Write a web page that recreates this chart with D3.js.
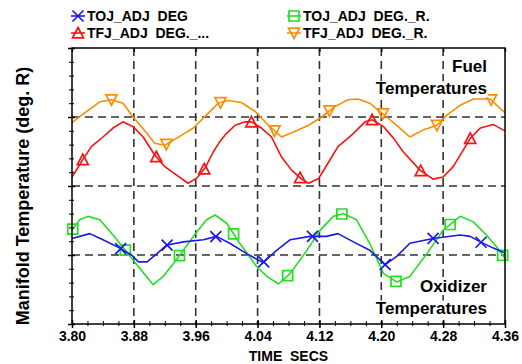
<!DOCTYPE html>
<html><head><meta charset="utf-8">
<script src="https://cdn.jsdelivr.net/npm/d3@7"></script>
<style>
html,body{margin:0;padding:0;background:#fff;}
svg text{font-family:"Liberation Sans",Arial,sans-serif;font-weight:bold;white-space:pre;}
</style></head>
<body><svg id="c" width="522" height="364"></svg>
<script>
// ---- data (time in s, temperature in plot units 0..4) ----
const xTicks = [3.80, 3.88, 3.96, 4.04, 4.12, 4.20, 4.28, 4.36];
const yGrid = [1, 2, 3];
const xLabel = "TIME  SECS";
const yLabel = "Manifold Temperature (deg. R)";
const seriesNames = ["TOJ_ADJ  DEG", "TOJ_ADJ  DEG._R.", "TFJ_ADJ  DEG._...", "TFJ_ADJ  DEG._R."];
const seriesColors = ["#1a1ae6", "#22e022", "#ff1010", "#ff8c00"];
const seriesShapes = ["x", "square", "tri-up", "tri-down"];

const tojTime = [3.800,3.823,3.840,3.862,3.877,3.886,3.897,3.910,3.922,3.944,3.970,3.987,4.004,4.026,4.047,4.065,4.082,4.108,4.129,4.144,4.164,4.185,4.205,4.220,4.237,4.267,4.302,4.315,4.328,4.345,4.360];
const tojVal  = [1.24,1.31,1.22,1.10,1.00,0.90,0.90,1.02,1.14,1.19,1.22,1.27,1.17,1.02,0.89,1.07,1.22,1.27,1.27,1.31,1.19,1.07,0.86,0.98,1.17,1.24,1.29,1.27,1.19,1.10,1.03];
const tojMarks = [3.863,3.923,3.986,4.048,4.111,4.205,4.267,4.329];

const tojRTime = [3.800,3.810,3.821,3.836,3.853,3.869,3.886,3.905,3.918,3.935,3.957,3.974,3.985,4.000,4.017,4.039,4.052,4.067,4.082,4.104,4.121,4.138,4.151,4.168,4.185,4.203,4.220,4.237,4.259,4.280,4.302,4.319,4.336,4.349,4.360];
const tojRVal  = [1.36,1.51,1.56,1.51,1.29,1.07,0.83,0.57,0.69,0.93,1.27,1.51,1.58,1.46,1.17,0.83,0.69,0.58,0.73,1.07,1.36,1.56,1.60,1.51,1.17,0.73,0.61,0.69,1.02,1.36,1.56,1.48,1.29,1.12,0.95];
const tojRMarks = [3.801,3.869,3.939,4.009,4.079,4.149,4.219,4.289,4.357];

const tfjTime = [3.800,3.815,3.825,3.840,3.853,3.866,3.879,3.892,3.907,3.920,3.935,3.950,3.961,3.972,3.983,3.991,3.998,4.011,4.024,4.032,4.045,4.058,4.071,4.084,4.097,4.106,4.119,4.131,4.144,4.162,4.179,4.188,4.203,4.216,4.228,4.250,4.267,4.280,4.293,4.306,4.315,4.328,4.345,4.358,4.360];
const tfjVal  = [2.13,2.40,2.57,2.71,2.84,2.93,2.86,2.71,2.45,2.28,2.16,2.04,2.11,2.26,2.50,2.64,2.74,2.88,2.93,2.93,2.84,2.71,2.42,2.23,2.10,2.04,2.11,2.33,2.57,2.74,2.93,2.96,2.86,2.69,2.50,2.23,2.10,2.13,2.28,2.52,2.69,2.84,2.89,2.81,2.80];
const tfjMarks = [3.814,3.909,3.971,4.032,4.095,4.188,4.251,4.315];

const tfjRTime = [3.800,3.819,3.836,3.851,3.866,3.879,3.897,3.907,3.920,3.935,3.957,3.974,3.989,4.002,4.019,4.037,4.054,4.071,4.088,4.106,4.123,4.140,4.157,4.170,4.185,4.207,4.224,4.237,4.254,4.272,4.285,4.302,4.319,4.341,4.358,4.360];
const tfjRVal  = [2.92,3.08,3.22,3.25,3.20,3.00,2.76,2.62,2.59,2.69,2.84,3.03,3.20,3.24,3.21,3.08,2.88,2.71,2.79,2.88,3.00,3.15,3.25,3.26,3.20,3.00,2.84,2.71,2.81,2.88,3.03,3.17,3.26,3.26,3.08,3.07];
const tfjRMarks = [3.851,3.922,3.992,4.062,4.133,4.202,4.272,4.342];

const annotations = [
  {lines:["Fuel","Temperatures"], at:[4.32, 3.65]},
  {lines:["Oxidizer","Temperatures"], at:[4.32, 0.47]}
];

// ---- build ----
const series = [
  {name:seriesNames[0], color:seriesColors[0], shape:seriesShapes[0], t:tojTime, v:tojVal, marks:tojMarks},
  {name:seriesNames[1], color:seriesColors[1], shape:seriesShapes[1], t:tojRTime, v:tojRVal, marks:tojRMarks},
  {name:seriesNames[2], color:seriesColors[2], shape:seriesShapes[2], t:tfjTime, v:tfjVal, marks:tfjMarks},
  {name:seriesNames[3], color:seriesColors[3], shape:seriesShapes[3], t:tfjRTime, v:tfjRVal, marks:tfjRMarks}
];

const svg = d3.select("#c");
const L = 72, R = 505, T = 48, B = 324;
const x = d3.scaleLinear().domain([3.80, 4.36]).range([L, R]);
const y = d3.scaleLinear().domain([0, 4]).range([B, T]);

// grid
const grid = svg.append("g").attr("stroke", "#333").attr("stroke-width", 1.6).attr("stroke-dasharray", "8,5");
grid.selectAll(".vx").data(xTicks.slice(1, -1)).join("line")
  .attr("x1", d => x(d)).attr("x2", d => x(d)).attr("y1", T).attr("y2", B);
grid.selectAll(".hy").data(yGrid).join("line")
  .attr("x1", L).attr("x2", R).attr("y1", d => y(d)).attr("y2", d => y(d));

// curves
const line = d3.line().x(d => x(d[0])).y(d => y(d[1]));
function interp(s, t) {
  const i = d3.bisectLeft(s.t, t);
  if (i <= 0) return s.v[0];
  if (i >= s.t.length) return s.v[s.v.length - 1];
  const t0 = s.t[i-1], t1 = s.t[i];
  return s.v[i-1] + (s.v[i] - s.v[i-1]) * (t - t0) / (t1 - t0);
}
function shapePath(shape) {
  const r = 5.5;
  if (shape === "x") return `M${-r},${-r}L${r},${r}M${-r},${r}L${r},${-r}`;
  if (shape === "square") return `M-5,-5H5V5H-5Z`;
  if (shape === "tri-up") return `M0,${-r}L${r},${r*0.9}L${-r},${r*0.9}Z`;
  return `M0,${r}L${r},${-r*0.9}L${-r},${-r*0.9}Z`;
}
// draw order: red, orange, green, blue
[2, 3, 1, 0].forEach(k => {
  const s = series[k];
  const pts = s.t.map((t, i) => [t, s.v[i]]);
  svg.append("path").datum(pts).attr("d", line)
    .attr("fill", "none").attr("stroke", s.color).attr("stroke-width", 1.6).attr("stroke-linejoin", "round");
  svg.append("g").selectAll("path").data(s.marks).join("path")
    .attr("transform", d => `translate(${x(d)},${y(interp(s, d))})`)
    .attr("d", shapePath(s.shape))
    .attr("fill", "none").attr("stroke", s.color).attr("stroke-width", 1.7);
});

// annotations with white backing
annotations.forEach(a => {
  const g = svg.append("g");
  const xx = x(a.at[0]) + 0, yy = y(a.at[1]);
  a.lines.forEach((ln, i) => {
    const txt = g.append("text").attr("x", 487).attr("y", yy + i * 22)
      .attr("text-anchor", "end").attr("font-size", 17).attr("fill", "#000").text(ln);
    const bb = txt.node().getBBox();
    g.insert("rect", "text").attr("x", bb.x - 1).attr("y", bb.y + 2).attr("width", bb.width + 2).attr("height", bb.height - 3).attr("fill", "#fff");
  });
});

// frame
svg.append("rect").attr("x", L).attr("y", T).attr("width", R - L).attr("height", B - T)
  .attr("fill", "none").attr("stroke", "#000").attr("stroke-width", 1.5);

// x axis
const xAxis = d3.axisBottom(x).tickValues(xTicks).tickFormat(d3.format(".2f")).tickSize(4).tickSizeOuter(0);
const gx = svg.append("g").attr("transform", `translate(0,${B})`).call(xAxis);
gx.select(".domain").remove();
gx.selectAll("line").attr("stroke", "#000").attr("stroke-width", 1.5).attr("y1", -4);
gx.selectAll("text").attr("dy", null).attr("y", 17).attr("font-size", 14)
  .attr("font-family", "Liberation Sans, Arial, sans-serif").attr("font-weight", "bold").attr("fill", "#000");
const minorX = d3.range(0, 29).map(i => 3.80 + i * 0.02).filter(t => t < 4.361);
const gxm = d3.axisBottom(x).tickValues(minorX).tickSize(2).tickFormat("");
const gxmg = svg.append("g").attr("transform", `translate(0,${B})`).call(gxm);
gxmg.select(".domain").remove();
gxmg.selectAll("line").attr("stroke", "#000").attr("y1", -3);
// top ticks
const gxt = svg.append("g").attr("transform", `translate(0,${T})`).call(d3.axisBottom(x).tickValues(xTicks).tickSize(4).tickFormat(""));
gxt.select(".domain").remove();
gxt.selectAll("line").attr("stroke", "#000").attr("stroke-width", 1.3);

// y axis ticks (no labels)
const minorY = d3.range(0, 21).map(i => i * 0.2);
const gy = svg.append("g").attr("transform", `translate(${L},0)`).call(d3.axisLeft(y).tickValues(minorY).tickSize(3).tickFormat(""));
gy.select(".domain").remove();
gy.selectAll("line").attr("stroke", "#000").attr("x2", -3).attr("x1", 2);
const gyM = svg.append("g").attr("transform", `translate(${L},0)`).call(d3.axisLeft(y).tickValues([0,1,2,3,4]).tickSize(4).tickFormat(""));
gyM.select(".domain").remove();
gyM.selectAll("line").attr("stroke", "#000").attr("stroke-width", 1.5).attr("x1", 3);

// axis labels
svg.append("text").attr("x", (L + R) / 2).attr("y", 361).attr("text-anchor", "middle")
  .attr("font-size", 14).text(xLabel);
svg.append("text").attr("transform", `translate(29,${(T + B) / 2 + 10}) rotate(-90)`)
  .attr("text-anchor", "middle").attr("font-size", 18).text(yLabel);

// legend
const legPos = [[78, 16], [294, 16], [78, 33], [294, 33]];
series.forEach((s, i) => {
  const [lx, ly] = legPos[i];
  const g = svg.append("g").attr("transform", `translate(${lx},${ly})`);
  g.append("line").attr("x1", -7).attr("x2", 7).attr("stroke", s.color).attr("stroke-width", 1.6);
  g.append("path").attr("d", shapePath(s.shape)).attr("fill", "none").attr("stroke", s.color).attr("stroke-width", 1.7);
  g.append("text").attr("x", 9).attr("y", 5).attr("font-size", 14).attr("fill", "#000").text(s.name);
});
</script></body></html>
